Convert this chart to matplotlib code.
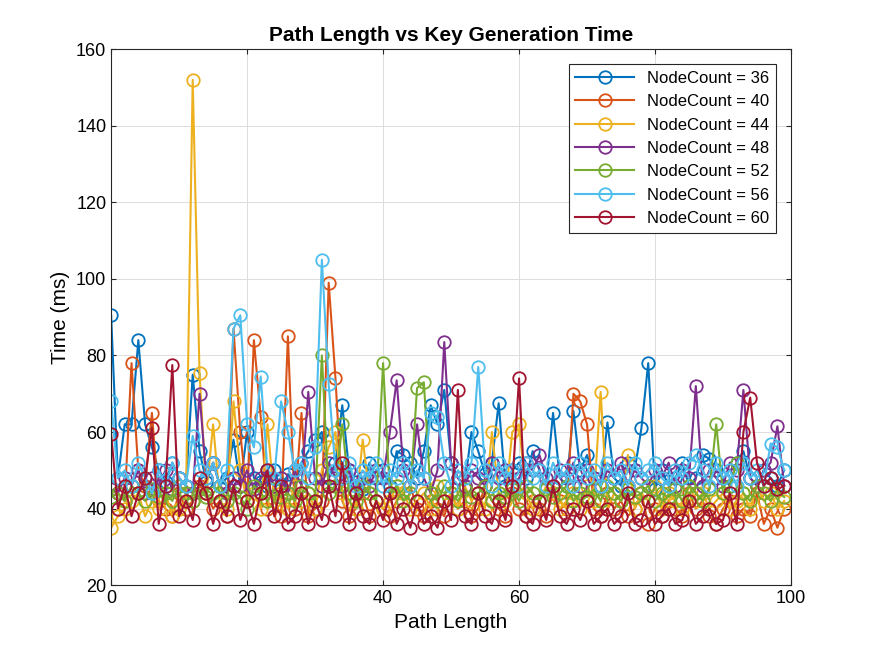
import matplotlib
matplotlib.use('Agg')
import matplotlib.pyplot as plt
import numpy as np

plt.rcParams['font.family'] = ['Liberation Sans', 'DejaVu Sans']

node_counts = [36, 40, 44, 48, 52, 56, 60]

t36 = [90.5,48,62,62,84,62,56,50,47,52,48,46,75,55,47,52,46,48,58,46,60,48,47,46,50,45,49,46,52,55,58,60,48,52,67,50,47,45,52,48,50,46,55,54,52,48,55,67,62,71,52,48,46,60,55,49,52,67.5,46,50,52,48,55,50,46,65,48,46,65.5,50,54,48,46,62.5,48,46,52,50,61,78,45,50,46,48,52,46,48,54,53,50,48,46,52,55,48,46,50,48,46,50]
t40 = [45,44,42,78,50,46,65,42,40,38,44,40,42,46,44,40,42,38,87,60,42,84,64,40,42,38,85,40,65,38,40,42,99,74,42,38,40,44,38,42,40,38,42,44,46,40,38,42,40,38,44,40,42,38,40,46,42,40,38,44,40,38,42,40,38,44,42,40,70,68,62,40,38,44,40,42,38,40,44,36,40,38,42,40,38,44,40,42,38,36,40,42,38,40,38,44,36,40,35,40]
t44 = [35,38,40,42,44,38,42,40,44,38,40,42,152,75.5,44,62,42,40,68,50,42,44,40,62,42,44,40,46,42,44,40,50,56,60,44,42,40,58,44,42,40,42,46,44,40,42,44,40,46,42,44,40,46,42,44,40,60,44,42,60,62,44,40,42,46,44,40,42,44,40,46,42,70.5,40,44,42,54,40,44,42,46,40,44,42,40,46,42,44,40,42,44,40,42,44,40,46,42,44,40,42]
t48 = [45,44,48,46,50,44,48,46,50,45,48,46,44,70,48,52,46,44,48,46,50,45,48,50,46,48,44,50,46,70.5,48,46,52,48,46,50,44,48,46,50,48,60,73.5,50,46,62,48,44,50,83.5,52,48,46,50,48,46,52,48,50,46,48,52,50,54,48,46,50,48,52,46,50,48,46,50,48,52,46,50,48,46,50,48,52,46,50,48,72,46,50,48,46,52,50,71,48,46,50,52,61.5,46]
t52 = [43,44,42,46,44,42,45,43,44,42,46,44,42,45,43,44,46,42,44,43,40,46,44,42,45,43,44,42,46,44,42,80,44,46,62,44,42,46,44,42,78,44,46,42,44,71.5,73,44,42,46,44,42,45,43,44,46,42,44,43,45,42,46,44,42,45,43,44,46,42,44,43,45,42,46,44,42,45,43,44,46,42,44,43,45,42,46,44,42,45,62,44,46,52,44,42,46,44,42,45,43]
t56 = [68,48,50,46,52,48,44,50,46,52,48,46,59,50,48,52,46,50,87,90.5,62,56,74.5,50,48,68,60,50,52,48,56,105,72.5,50,48,52,46,50,48,52,46,50,48,52,46,50,48,65,64,52,46,50,48,52,77,50,46,52,48,50,46,52,48,50,46,52,48,50,46,52,48,50,46,52,48,50,46,52,48,50,52,48,46,50,48,52,54,50,46,52,48,50,46,52,48,50,46,57,56,50]
t60 = [59.5,40,46,38,44,48,61,36,46,77.5,38,42,37,48,44,36,42,38,46,37,42,36,44,50,38,46,36,38,44,36,42,37,46,38,52,36,44,38,36,42,37,44,36,40,35,42,36,38,35,42,37,71,38,36,44,38,36,42,37,46,74,38,36,42,37,46,38,36,40,37,42,36,38,40,36,38,44,36,37,42,36,38,40,36,37,42,36,38,40,36,37,44,36,60,69,52,46,48,45,46]

series = [t36, t40, t44, t48, t52, t56, t60]
colors = ['#0072BD', '#D95319', '#EDB120', '#7E2F8E', '#77AC30', '#4DBEEE', '#A2142F']

fig = plt.figure(figsize=(8.75, 6.56), dpi=100)
ax = fig.add_axes([0.127, 0.108, 0.777, 0.817])

for n, y, c in zip(node_counts, series, colors):
    x = np.arange(len(y))
    ax.plot(x, y, '-o', color=c, lw=1.5, ms=9, mfc='none', mew=1.3,
            label=f'NodeCount = {n}')

ax.set_xlim(0, 100)
ax.set_ylim(20, 160)
ax.set_xticks(range(0, 101, 20))
ax.set_yticks(range(20, 161, 20))
ax.grid(True, color='#DDDDDD', lw=0.7)
ax.set_axisbelow(True)
ax.tick_params(labelsize=13, direction='in', top=True, right=True, color='#262626')
for s in ax.spines.values():
    s.set_color('#262626')
ax.set_xlabel('Path Length', fontsize=15)
ax.set_ylabel('Time (ms)', fontsize=15)
ax.set_title('Path Length vs Key Generation Time', fontsize=15, fontweight='bold')
leg = ax.legend(loc='upper right', fontsize=12, fancybox=False, framealpha=1,
                edgecolor='#262626', borderaxespad=0.9, handlelength=3.5)
leg.get_frame().set_linewidth(0.8)

fig.savefig('out.png')
